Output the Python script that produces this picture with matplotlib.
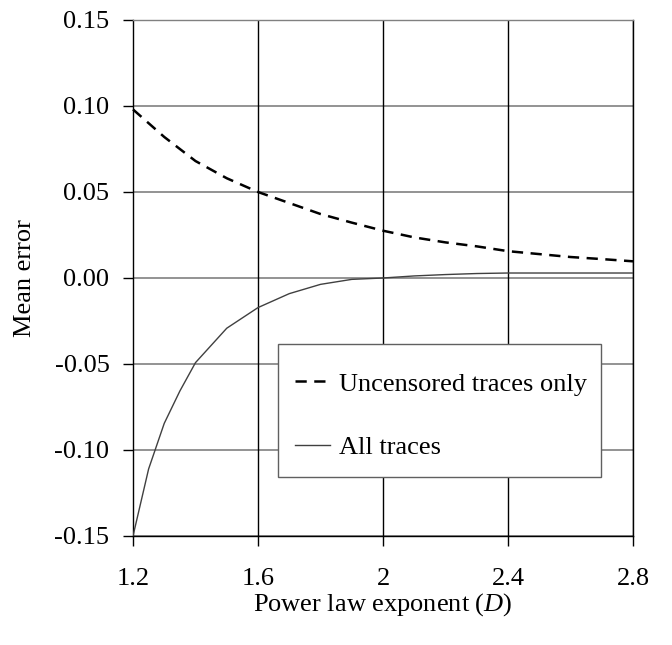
import matplotlib
matplotlib.use("Agg")
import matplotlib.pyplot as plt
from matplotlib.patches import Rectangle

plt.rcParams['font.family'] = ['Liberation Serif', 'DejaVu Serif']
plt.rcParams['mathtext.fontset'] = 'custom'
plt.rcParams['mathtext.it'] = 'Liberation Serif:italic'
plt.rcParams['mathtext.rm'] = 'Liberation Serif'

# Mean error vs power law exponent
d_uncensored = [1.2, 1.3, 1.4, 1.5, 1.6, 1.7, 1.8, 1.9, 2.0, 2.1, 2.2, 2.3, 2.4, 2.5, 2.6, 2.7, 2.8]
err_uncensored = [0.098, 0.082, 0.068, 0.058, 0.050, 0.0436, 0.0372, 0.0322, 0.0275, 0.0236,
                  0.0207, 0.0184, 0.0156, 0.0139, 0.0122, 0.011, 0.0097]

d_all = [1.2, 1.25, 1.3, 1.35, 1.4, 1.5, 1.6, 1.7, 1.8, 1.9, 2.0, 2.1, 2.2, 2.3, 2.4, 2.5, 2.6, 2.7, 2.8]
err_all = [-0.150, -0.111, -0.0845, -0.0657, -0.0492, -0.0292, -0.0172, -0.0091, -0.0037, -0.0008,
           0.0, 0.0012, 0.002, 0.0026, 0.0029, 0.0029, 0.0029, 0.0029, 0.0029]

x_ticks = [1.2, 1.6, 2.0, 2.4, 2.8]
x_labels = ['1.2', '1.6', '2', '2.4', '2.8']
y_ticks = [-0.15, -0.10, -0.05, 0.00, 0.05, 0.10, 0.15]

fig = plt.figure(figsize=(6.72, 6.45), dpi=100)
ax = fig.add_axes([133 / 672, 1 - 536 / 645, 500 / 672, 516 / 645])

for y in y_ticks:
    ax.axhline(y, color='#808080', lw=1.2, zorder=1)
for x in x_ticks[1:]:
    ax.axvline(x, color='black', lw=1.0, zorder=1)

ax.plot(d_uncensored, err_uncensored, color='black', lw=1.8, ls=(0, (4.5, 3)),
        label='Uncensored traces only', zorder=3, clip_on=False)
ax.plot(d_all, err_all, color='#404040', lw=1.0, label='All traces', zorder=3)

ax.set_xlim(1.2, 2.8)
ax.set_ylim(-0.15, 0.15)
ax.set_xticks(x_ticks)
ax.set_xticklabels(x_labels)
ax.set_yticks(y_ticks)
ax.set_yticklabels(['%.2f' % v for v in y_ticks])
ax.tick_params(direction='out', length=7, width=1, labelsize=19, color='black')
ax.tick_params(axis='y', pad=10)
ax.tick_params(axis='x', pad=16)

ax.spines['top'].set_color('#808080')
ax.spines['right'].set_color('black')
for s in ax.spines.values():
    s.set_linewidth(1.0)

ax.set_xlabel('Power law exponent ($\\mathit{D}$)', fontsize=19, labelpad=1)
ax.set_ylabel('Mean error', fontsize=19, labelpad=13)

# legend box, taller than the default frame
ax.add_patch(Rectangle((0.29, 0.1143), 0.646, 0.2578, transform=ax.transAxes,
                       facecolor='white', edgecolor='#606060', lw=1.0, zorder=4))
leg = ax.legend(loc='upper left', bbox_to_anchor=(0.29, 0.3505), fontsize=19,
                frameon=False, handlelength=1.33, handletextpad=0.35,
                labelspacing=1.52, borderpad=0.64, borderaxespad=0)
leg.set_zorder(5)

fig.savefig('out.png', dpi=100)
